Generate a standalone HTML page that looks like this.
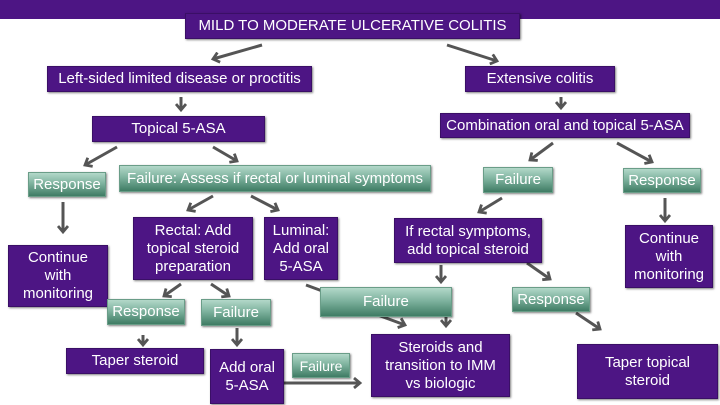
<!DOCTYPE html>
<html><head><meta charset="utf-8"><style>
body{margin:0;width:720px;height:405px;overflow:hidden;background:#fff;position:relative;font-family:"Liberation Sans",sans-serif}
.b{position:absolute;display:flex;align-items:center;justify-content:center;text-align:center;color:#fff;font-size:15px;line-height:18px;box-sizing:border-box;box-shadow:1px 1px 2px rgba(0,0,0,.5);white-space:nowrap}
.p{background:#4d1584;border:1px solid #3a0f66}
.g{background:linear-gradient(#b3d8c9,#7fb39f 45%,#3f7c64);border:1px solid #6a9d88}
svg{position:absolute;left:0;top:0}
</style></head><body>
<div style="position:absolute;left:0;top:0;width:720px;height:19px;background:#4d1584"></div>
<svg width="720" height="405"><defs><marker id="a" markerWidth="10" markerHeight="12" refX="7" refY="6" orient="auto" markerUnits="userSpaceOnUse"><path d="M1,1 L7,6 L1,11" fill="none" stroke="#555" stroke-width="2.8"/></marker></defs>
<g stroke="#555" stroke-width="3" fill="none" marker-end="url(#a)">
<line x1="262" y1="45" x2="213" y2="59"/>
<line x1="447" y1="45" x2="497" y2="61"/>
<line x1="181" y1="97" x2="181" y2="110"/>
<line x1="561" y1="97" x2="561" y2="108"/>
<line x1="117" y1="147" x2="85" y2="165"/>
<line x1="213" y1="147" x2="237" y2="161"/>
<line x1="553" y1="143" x2="530" y2="160"/>
<line x1="617" y1="143" x2="652" y2="162"/>
<line x1="63" y1="202" x2="63" y2="232"/>
<line x1="213" y1="196" x2="188" y2="210"/>
<line x1="251" y1="196" x2="278" y2="210"/>
<line x1="502" y1="198" x2="479" y2="212"/>
<line x1="665" y1="198" x2="665" y2="221"/>
<line x1="441" y1="265" x2="441" y2="282"/>
<line x1="527" y1="263" x2="550" y2="279"/>
<line x1="181" y1="284" x2="164" y2="296"/>
<line x1="211" y1="284" x2="229" y2="296"/>
<line x1="143" y1="335" x2="143" y2="345"/>
<line x1="237" y1="328" x2="237" y2="345"/>
<line x1="375" y1="314" x2="405" y2="325"/>
<line x1="446" y1="316" x2="446" y2="326"/>
<line x1="576" y1="313" x2="600" y2="329"/>
<line x1="283" y1="383" x2="360" y2="383"/>
</g>
<line x1="306" y1="285" x2="325" y2="292" stroke="#555" stroke-width="3"/>
</svg>
<div class="b p" style="left:185px;top:13px;width:335px;height:26px;font-size:15px">MILD TO MODERATE ULCERATIVE COLITIS</div>
<div class="b p" style="left:47px;top:66px;width:265px;height:26px">Left-sided limited disease or proctitis</div>
<div class="b p" style="left:465px;top:66px;width:150px;height:26px">Extensive colitis</div>
<div class="b p" style="left:92px;top:116px;width:173px;height:26px">Topical 5-ASA</div>
<div class="b p" style="left:440px;top:113px;width:250px;height:25px">Combination oral and topical 5-ASA</div>
<div class="b g" style="left:28px;top:172px;width:78px;height:25px">Response</div>
<div class="b g" style="left:119px;top:165px;width:312px;height:27px">Failure: Assess if rectal or luminal symptoms</div>
<div class="b g" style="left:483px;top:167px;width:70px;height:26px">Failure</div>
<div class="b g" style="left:623px;top:168px;width:78px;height:25px">Response</div>
<div class="b p" style="left:8px;top:245px;width:100px;height:62px">Continue<br>with<br>monitoring</div>
<div class="b p" style="left:133px;top:217px;width:120px;height:63px">Rectal: Add<br>topical steroid<br>preparation</div>
<div class="b p" style="left:264px;top:217px;width:74px;height:63px">Luminal:<br>Add oral<br>5-ASA</div>
<div class="b g" style="left:320px;top:287px;width:132px;height:30px;justify-content:flex-start;padding-left:42px">Failure</div>
<div class="b p" style="left:394px;top:218px;width:148px;height:45px">If rectal symptoms,<br>add topical steroid</div>
<div class="b g" style="left:512px;top:287px;width:78px;height:25px">Response</div>
<div class="b p" style="left:625px;top:225px;width:88px;height:63px">Continue<br>with<br>monitoring</div>
<div class="b g" style="left:107px;top:299px;width:78px;height:26px">Response</div>
<div class="b g" style="left:201px;top:299px;width:70px;height:27px">Failure</div>
<div class="b p" style="left:66px;top:348px;width:138px;height:26px">Taper steroid</div>
<div class="b p" style="left:210px;top:349px;width:74px;height:55px">Add oral<br>5-ASA</div>
<div class="b g" style="left:292px;top:353px;width:58px;height:25px;font-size:14px">Failure</div>
<div class="b p" style="left:371px;top:334px;width:139px;height:63px">Steroids and<br>transition to IMM<br>vs biologic</div>
<div class="b p" style="left:577px;top:344px;width:141px;height:55px">Taper topical<br>steroid</div>
</body></html>
